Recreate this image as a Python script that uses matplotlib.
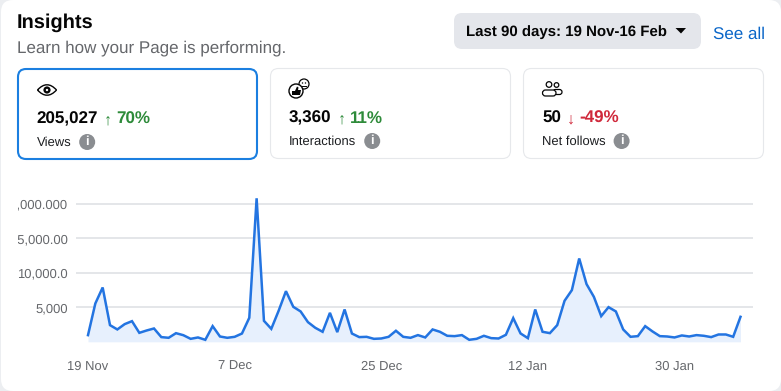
import matplotlib
matplotlib.use("Agg")
import matplotlib.pyplot as plt
from matplotlib.patches import FancyBboxPatch, Circle, Polygon, PathPatch
from matplotlib.path import Path
from matplotlib.transforms import Bbox

plt.rcParams['font.family'] = ['Liberation Sans', 'DejaVu Sans']
plt.rcParams['text.hinting'] = 'no_hinting'
plt.rcParams['text.hinting_factor'] = 1

# Daily views
views = [966, 5555, 7870, 2415, 1790, 2560, 2990, 1300, 1640, 1930,
         680, 580, 1250, 960, 430, 630, 290, 2270, 770, 580,
         720, 1200, 3480, 20800, 3040, 1880, 4490, 7340, 5070, 4400,
         2850, 2030, 1450, 4200, 1400, 4685, 1200, 680, 720, 430,
         480, 720, 1600, 720, 580, 970, 630, 1790, 1450, 870,
         820, 970, 290, 430, 870, 530, 480, 1015, 3430, 1210,
         530, 4685, 1450, 1255, 2415, 5940, 7490, 12075, 8360, 6520,
         3720, 5020, 4400, 1790, 725, 820, 2270, 1500, 820, 770,
         630, 920, 770, 970, 870, 680, 1060, 1060, 725, 3620]
x_ticks = [0, 20, 40, 60, 80]
x_labels = ["19 Nov", "7 Dec", "25 Dec", "12 Jan", "30 Jan"]
y_ticks = [5000, 10000, 15000, 20000]
y_labels = ["5,000", "10,000.0", "15,000.00", "20,000.000"]

card_values = ["205,027", "3,360", "50"]
card_changes = ["70%", "11%", "-49%"]
card_arrows = ["↑", "↑", "↓"]
card_names = ["Views", "Interactions", "Net follows"]

W, H = 781, 391
fig = plt.figure(figsize=(W / 100, H / 100), dpi=100, facecolor="#eceef1")

# page layer in pixel coordinates
page = fig.add_axes([0, 0, 1, 1])
page.set_xlim(0, W)
page.set_ylim(H, 0)
page.axis("off")


def round_box(x, y, w, h, r, face, edge, lw, z=1):
    box = FancyBboxPatch((x + r, y + r), w - 2 * r, h - 2 * r,
                         boxstyle="round,pad=%f,rounding_size=%f" % (r, r),
                         facecolor=face, edgecolor=edge, linewidth=lw, zorder=z)
    page.add_patch(box)


round_box(1, 0, 780, H, 12, "white", "none", 0)

page.text(17, 23, "Insights", fontsize=14.6, fontweight="bold", color="#050505", va="center")
page.text(17, 48, "Learn how your Page is performing.", fontsize=12, color="#65676b", va="center")

# date button
round_box(454, 13, 247, 36, 8, "#e4e6eb", "none", 0)
page.text(466, 32, "Last 90 days: 19 Nov-16 Feb", fontsize=11, fontweight="bold", color="#050505", va="center")
page.add_patch(Polygon([[675.5, 28], [686, 28], [681, 33.5]], closed=True, facecolor="#050505", edgecolor="none", zorder=2))
page.text(713, 34, "See all", fontsize=12, color="#0a66c8", va="center")

# the three cards
card_x = [17, 270, 523]
card_colors = ["#2e8b3a", "#2e8b3a", "#d0293b"]
round_box(18, 69, 239, 90, 8, "white", "#1b7fe0", 1.5)
round_box(270.5, 68.5, 240, 90, 8, "white", "#e6e8eb", 0.8)
round_box(523.5, 68.5, 240, 90, 8, "white", "#e6e8eb", 0.8)

offsets = [1.5, 0.5, 0.5]
for i in range(3):
    x0 = card_x[i] + 19.5
    if i > 0:
        x0 = card_x[i] + 19
    dy = offsets[i]
    num = page.text(x0, 117.5 + dy, card_values[i], fontsize=12.2, fontweight="bold", color="#050505", va="center")
    fig.canvas.draw()
    bb = num.get_window_extent()
    ax_x = bb.x1 + 6
    page.text(ax_x, 118.5 + dy, card_arrows[i], fontsize=11.5, color=card_colors[i], va="center", fontweight="bold")
    page.text(ax_x + 12, 117.5 + dy, card_changes[i], fontsize=12.2, fontweight="bold", color=card_colors[i], va="center")
    name = page.text(x0, 141 + dy, card_names[i], fontsize=9.4, color="#1c1e21", va="center")
    fig.canvas.draw()
    nb = name.get_window_extent()
    cx = nb.x1 + 16
    page.add_patch(Circle((cx, 140.5 + dy), 8, facecolor="#8a8d91", edgecolor="none", zorder=2))
    page.text(cx, 140.5 + dy, "i", fontsize=9.5, fontweight="bold", color="white", ha="center", va="center", zorder=3)

# eye icon
eye = Path([(37.5, 90), (47, 79.5), (56.5, 90), (47, 100.5), (37.5, 90)],
           [Path.MOVETO, Path.CURVE3, Path.CURVE3, Path.CURVE3, Path.CURVE3])
page.add_patch(PathPatch(eye, facecolor="none", edgecolor="#050505", linewidth=1, zorder=2))
page.add_patch(Circle((47, 90), 3.6, facecolor="#050505", edgecolor="none", zorder=2))
page.add_patch(Circle((47, 90), 1.2, facecolor="white", edgecolor="none", zorder=3))

# interactions icon
page.add_patch(Circle((296, 91), 7, facecolor="white", edgecolor="#050505", linewidth=1, zorder=3))
page.add_patch(Polygon([[292, 91], [295, 91], [297, 86.5], [298.5, 87.5], [298, 90], [301, 90], [300, 95], [292, 95]],
                       closed=True, facecolor="#050505", edgecolor="none", zorder=4))
page.add_patch(Circle((304, 84), 5, facecolor="white", edgecolor="#050505", linewidth=0.9, zorder=2))
page.add_patch(Circle((302.5, 83), 0.7, facecolor="#050505", edgecolor="none", zorder=6))
page.add_patch(Circle((305.5, 83), 0.7, facecolor="#050505", edgecolor="none", zorder=6))
page.plot([302, 306], [85.8, 85.8], color="#050505", linewidth=0.7, zorder=6)

# net follows icon
page.add_patch(Circle((549, 84.5), 2.8, facecolor="none", edgecolor="#050505", linewidth=0.9, zorder=2))
page.add_patch(Circle((556.5, 85), 2.3, facecolor="none", edgecolor="#050505", linewidth=0.9, zorder=2))
round_box(553, 89.5, 9, 5, 2.5, "white", "#050505", 0.9, z=2)
round_box(542.5, 90, 13.5, 6, 3, "white", "#050505", 0.9, z=3)

# chart, axes placed so the grid spans x 76-753 and baseline sits at y 341.8
left, right = 76, 753
top, bottom = 195, 341.8
step = (740.5 - 88) / 89
ax = fig.add_axes([left / W, 1 - bottom / H, (right - left) / W, (bottom - top) / H])
ax.patch.set_alpha(0)
ax.set_xlim(-(88 - left) / step, (right - 88) / step)
ax.set_ylim(0, (bottom - top) / 34.5 * 5000)

days = list(range(len(views)))
ax.fill_between(days, views, 0, color="#e7f0fd", linewidth=0, zorder=2)
ax.plot(days, views, color="#2374e1", linewidth=1.8, zorder=3, solid_joinstyle="miter")
ax.set_yticks(y_ticks)
ax.set_yticklabels(y_labels)
ax.set_xticks(x_ticks)
ax.set_xticklabels(x_labels)
ax.grid(axis="y", color="#dcdfe3", linewidth=1.1, zorder=1)
ax.set_axisbelow(True)
ax.tick_params(axis="both", length=0, labelsize=9.5, labelcolor="#65676b")
ax.tick_params(axis="y", pad=6)
ax.tick_params(axis="x", pad=20.3)
for spine in ax.spines.values():
    spine.set_visible(False)

# keep the date labels on one baseline
for label in ax.get_xticklabels():
    label.set_va("baseline")

# long y labels are cut off at the left edge of the chart area
for label in ax.get_yticklabels():
    label.set_clip_box(Bbox([[18, 0], [W, H]]))
    label.set_clip_on(True)

fig.savefig("out.png", dpi=100, facecolor=fig.get_facecolor())
